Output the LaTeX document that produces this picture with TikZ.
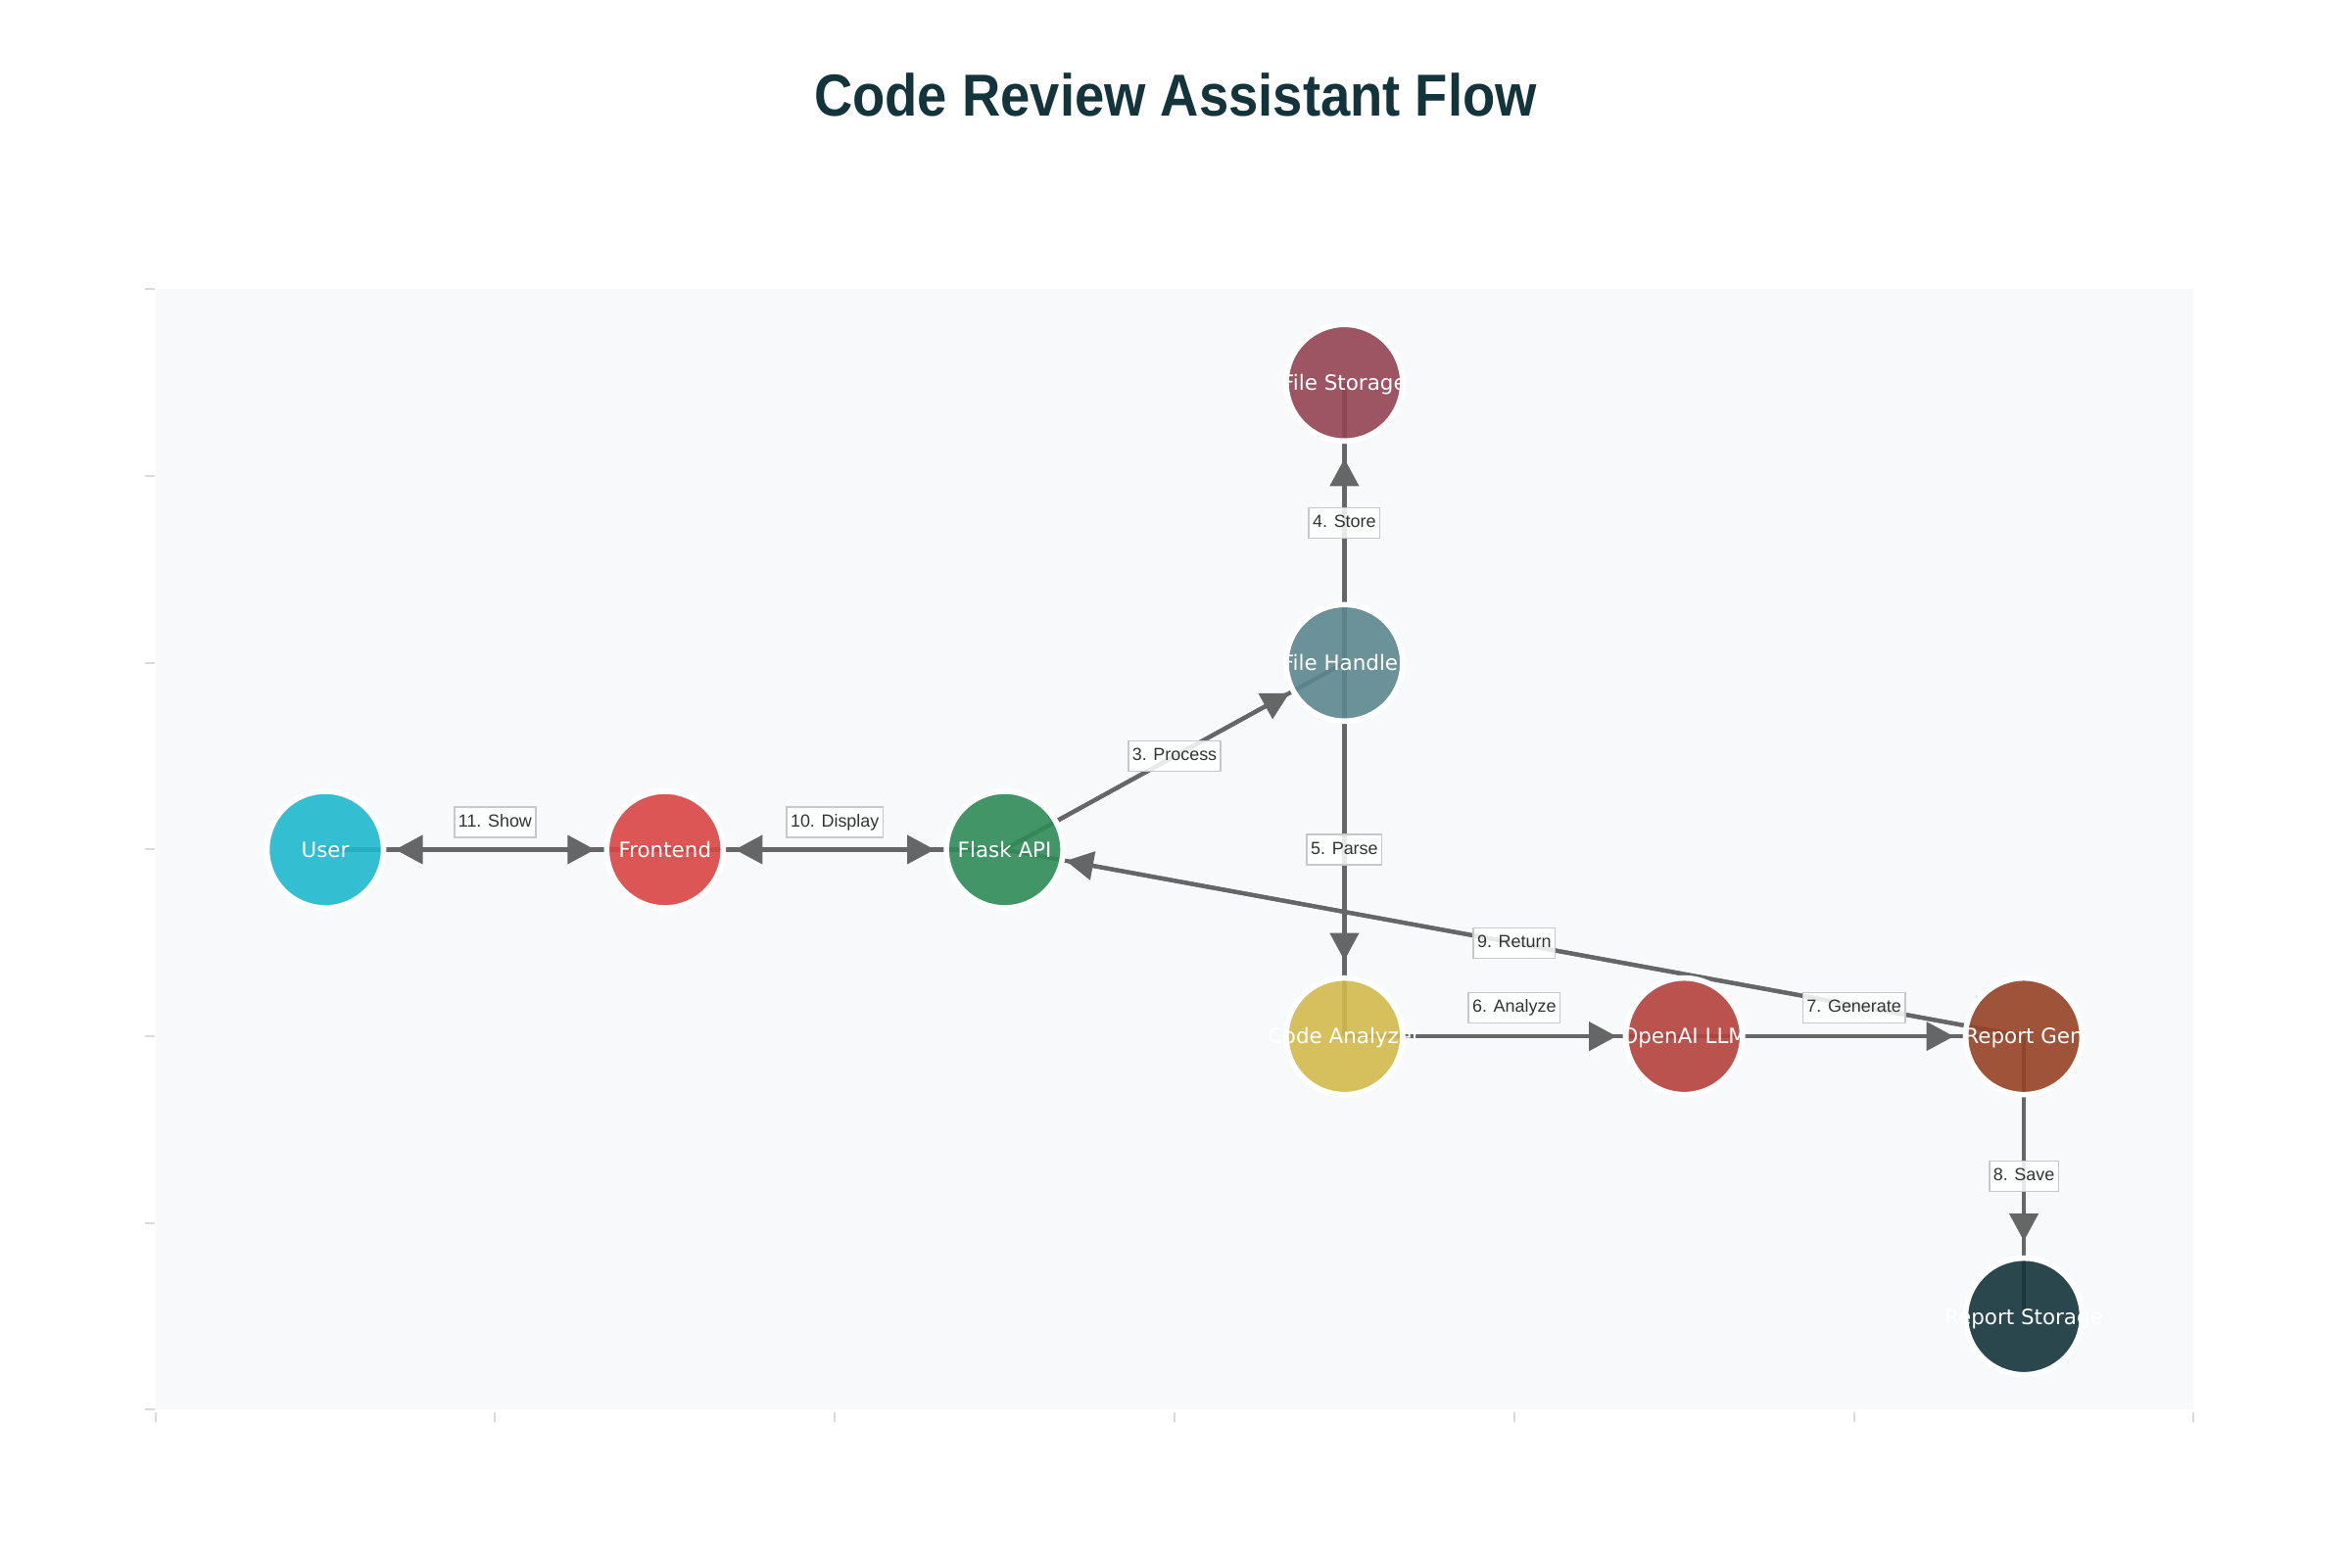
\documentclass[tikz,border=0pt]{standalone}
\usepackage{fontspec}
\setmainfont{Liberation Sans}
\newfontfamily\nodefont{DejaVu Sans}
\usetikzlibrary{arrows.meta,calc}
\definecolor{plotbg}{HTML}{F8F9FA}
\definecolor{tickc}{HTML}{DADADA}
\definecolor{edgec}{HTML}{666666}
\definecolor{lblborder}{HTML}{C8C8C8}
\definecolor{lbltext}{HTML}{333333}
\definecolor{titlec}{HTML}{13343B}
\definecolor{cUser}{HTML}{1FB8CD}
\definecolor{cFront}{HTML}{DB4545}
\definecolor{cFlask}{HTML}{2E8B57}
\definecolor{cFStore}{HTML}{944454}
\definecolor{cFHand}{HTML}{5D878F}
\definecolor{cAnal}{HTML}{D2BA4C}
\definecolor{cLLM}{HTML}{B4413C}
\definecolor{cRGen}{HTML}{964325}
\definecolor{cRStore}{HTML}{13343B}
\newcommand\ctext[1]{\makebox[0pt]{#1}}
\pgfdeclarelayer{bg}
\pgfdeclarelayer{edges}
\pgfsetlayers{bg,edges,main}
\tikzset{
  nd/.style={circle, minimum size=1.19cm, inner sep=0pt, draw=white, line width=0.056cm,
    fill opacity=0.9, text opacity=1, text=white,
    font=\nodefont\fontsize{6.1}{7}\selectfont, text height=0.157cm, text depth=0pt},
  edge/.style={draw=edgec, line width=0.042cm},
  arr/.style={edge, -{Triangle[length=0.28cm,width=0.29cm]}, fill=edgec},
  lbl/.style={draw=lblborder, line width=0.015cm, fill=white, fill opacity=0.85, text opacity=1,
    text=lbltext, font=\fontsize{5.1}{6}\selectfont, inner xsep=0.04cm, inner ysep=0.07cm,
    text height=0.131cm, text depth=0.038cm},
  tick/.style={draw=tickc, line width=0.02cm}
}
\begin{document}
\begin{tikzpicture}
\useasboundingbox (0,0) rectangle (24,16);
\begin{pgfonlayer}{bg}
\fill[white] (0,0) rectangle (24,16);
\fill[plotbg] (1.586,1.605) rectangle (22.394,13.045);
\foreach \k in {0,...,6} {
  \draw[tick] (1.48,{1.605+1.9067*\k}) -- (1.575,{1.605+1.9067*\k});
  \draw[tick] ({1.586+3.468*\k},1.48) -- ({1.586+3.468*\k},1.58);
}
\end{pgfonlayer}

\node[anchor=base, text=titlec, font=\bfseries\fontsize{17.2}{20}\selectfont] (title) at (12.0,14.81)
  {\scalebox{0.9}[1]{Code Review Assistant Flow}};

\begin{scope}[shift={(1.586,1.605)}, x=3.468cm, y=1.9067cm]
\node[nd, fill=cUser]   (user)   at (0.5,3)   {\ctext{User}};
\node[nd, fill=cFront]  (front)  at (1.5,3)   {\ctext{Frontend}};
\node[nd, fill=cFlask]  (flask)  at (2.5,3)   {\ctext{Flask API}};
\node[nd, fill=cFStore] (fstore) at (3.5,5.5) {\ctext{File Storage}};
\node[nd, fill=cFHand]  (fhand)  at (3.5,4)   {\ctext{File Handler}};
\node[nd, fill=cAnal]   (anal)   at (3.5,2)   {\ctext{Code Analyzer}};
\node[nd, fill=cLLM]    (llm)    at (4.5,2)   {\ctext{OpenAI LLM}};
\node[nd, fill=cRGen]   (rgen)   at (5.5,2)   {\ctext{Report Gen}};
\node[nd, fill=cRStore] (rstore) at (5.5,0.5) {\ctext{Report Storage}};
\end{scope}

\begin{pgfonlayer}{edges}
% center-to-center lines
\draw[edge] (user.center) -- (front.center);
\draw[edge] (front.center) -- (flask.center);
\draw[edge] (flask.center) -- (fhand.center);
\draw[edge] (fhand.center) -- (fstore.center);
\draw[edge] (fhand.center) -- (anal.center);
\draw[edge] (anal.center) -- (llm.center);
\draw[edge] (llm.center) -- (rgen.center);
\draw[edge] (rgen.center) -- (rstore.center);
\draw[edge] (rgen.center) -- (flask.center);
% arrows
\draw[arr, shorten >=0.715cm] (user.center) -- (front.center);
\draw[arr, shorten >=0.715cm] (front.center) -- (user.center);
\draw[arr, shorten >=0.715cm] (front.center) -- (flask.center);
\draw[arr, shorten >=0.715cm] (flask.center) -- (front.center);
\draw[arr, shorten >=0.64cm] (flask.center) -- (fhand.center);
\draw[arr, shorten >=0.775cm] (fhand.center) -- (fstore.center);
\draw[arr, shorten >=0.775cm] (fhand.center) -- (anal.center);
\draw[arr, shorten >=0.69cm] (anal.center) -- (llm.center);
\draw[arr, shorten >=0.715cm] (llm.center) -- (rgen.center);
\draw[arr, shorten >=0.77cm] (rgen.center) -- (rstore.center);
\draw[arr, shorten >=0.635cm] (rgen.center) -- (flask.center);
\end{pgfonlayer}

% edge labels
\node[lbl, yshift=0.28cm] (l11) at ($(user)!0.5!(front)$) {11. Show};
\node[lbl, yshift=0.28cm] (l10) at ($(front)!0.5!(flask)$) {10. Display};
\node[lbl] (l3) at ($(flask)!0.5!(fhand)$) {3. Process};
\node[lbl] (l4) at ($(fhand)!0.5!(fstore)$) {4. Store};
\node[lbl] (l5) at ($(fhand)!0.5!(anal)$) {5. Parse};
\node[lbl, yshift=0.29cm] (l6) at ($(anal)!0.5!(llm)$) {6. Analyze};
\node[lbl, yshift=0.29cm] (l7) at ($(llm)!0.5!(rgen)$) {7. Generate};
\node[lbl] (l8) at ($(rgen)!0.5!(rstore)$) {8. Save};
\node[lbl] (l9) at ($(rgen)!0.5!(flask)$) {9. Return};
\end{tikzpicture}
\end{document}
